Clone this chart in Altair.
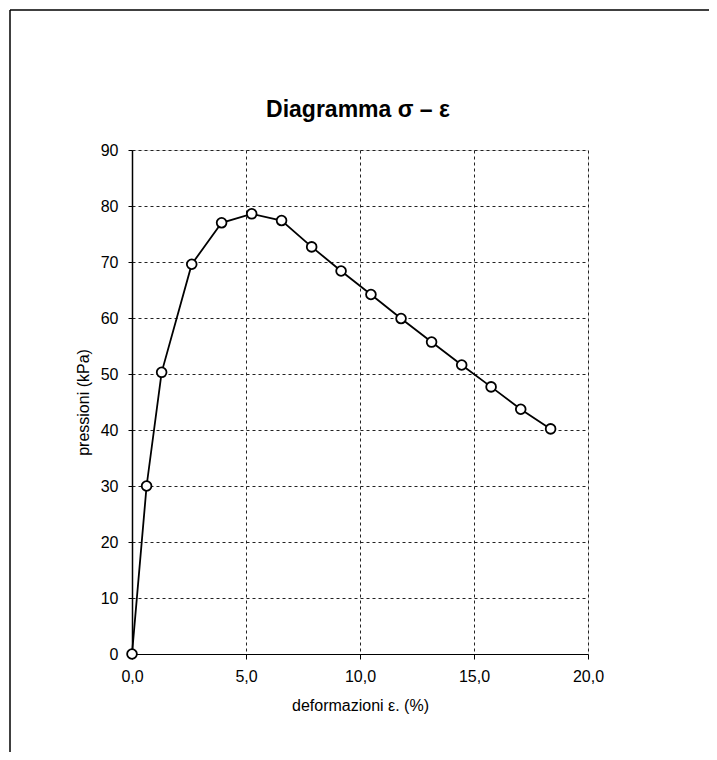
import altair as alt
import pandas as pd

# data
strain = [0.0, 0.64, 1.30, 2.62, 3.93, 5.25, 6.56, 7.88, 9.17, 10.48, 11.80, 13.14, 14.46, 15.75, 17.05, 18.36]
stress = [0.0, 30.0, 50.3, 69.6, 77.0, 78.6, 77.4, 72.7, 68.4, 64.2, 59.9, 55.7, 51.6, 47.7, 43.7, 40.2]
x_ticks = [0, 5, 10, 15, 20]
y_ticks = [0, 10, 20, 30, 40, 50, 60, 70, 80, 90]
title_text = ["Diagramma σ – ε"]

df = pd.DataFrame({"strain": strain, "stress": stress})
tdf = pd.DataFrame({"t": title_text})

FONT = "Liberation Sans"
W, H = 456, 504

xenc = alt.X(
    "strain:Q",
    scale=alt.Scale(domain=[0, 20], nice=False, zero=False),
    axis=alt.Axis(
        values=x_ticks,
        title="deformazioni  ε. (%)",
        labelExpr="replace(format(datum.value, '.1f'), '.', ',')",
        grid=True,
        gridColor="#222",
        gridDash=[3, 3],
        gridWidth=1,
        domainColor="black",
        domainWidth=1.2,
        tickColor="black",
        tickSize=5,
        labelPadding=9,
        labelFont=FONT,
        labelFontSize=16,
        labelColor="black",
        labelFlush=False,
        titleFont=FONT,
        titleFontSize=16,
        titleFontWeight="normal",
        titleColor="black",
        titleY=51,
        titleBaseline="middle",
    ),
)
yenc = alt.Y(
    "stress:Q",
    scale=alt.Scale(domain=[0, 90], nice=False),
    axis=alt.Axis(
        values=y_ticks,
        title="pressioni (kPa)",
        grid=True,
        gridColor="#222",
        gridDash=[3, 3],
        gridWidth=1,
        domainColor="black",
        domainWidth=1.5,
        tickColor="black",
        tickSize=4,
        labelPadding=10,
        labelFont=FONT,
        labelFontSize=16,
        labelColor="black",
        labelFlush=False,
        titleFont=FONT,
        titleFontSize=16,
        titleFontWeight="normal",
        titleColor="black",
        titleX=-49,
        titleY=H / 2,
        titleBaseline="middle",
        titleAngle=270,
    ),
)

line = alt.Chart(df).mark_line(color="black", strokeWidth=1.8).encode(x=xenc, y=yenc)
pts = alt.Chart(df).mark_point(
    shape="circle", filled=True, fill="white", stroke="black", strokeWidth=1.8, size=95, opacity=1
).encode(x="strain:Q", y="stress:Q")

title = alt.Chart(tdf).mark_text(
    font=FONT, fontSize=23, fontWeight="bold", color="black", align="center", baseline="alphabetic"
).encode(x=alt.value(W / 2 - 2), y=alt.value(-33), text="t:N")

frame_left = alt.Chart(tdf).mark_rule(color="black", strokeWidth=1.5).encode(
    x=alt.value(-122), y=alt.value(-140), y2=alt.value(620)
)
frame_top = alt.Chart(tdf).mark_rule(color="black", strokeWidth=1.5).encode(
    x=alt.value(-122), x2=alt.value(600), y=alt.value(-140)
)

chart = (
    alt.layer(frame_left, frame_top, line, pts, title)
    .properties(
        width=W,
        height=H,
        autosize=alt.AutoSizeParams(type="none"),
        padding={"left": 124, "top": 142, "right": 121, "bottom": 98},
    )
    .configure_view(stroke="black", strokeWidth=1.5)
    .configure(background="white")
)

chart.save("out.html", embed_options={"renderer": "svg", "actions": False})
